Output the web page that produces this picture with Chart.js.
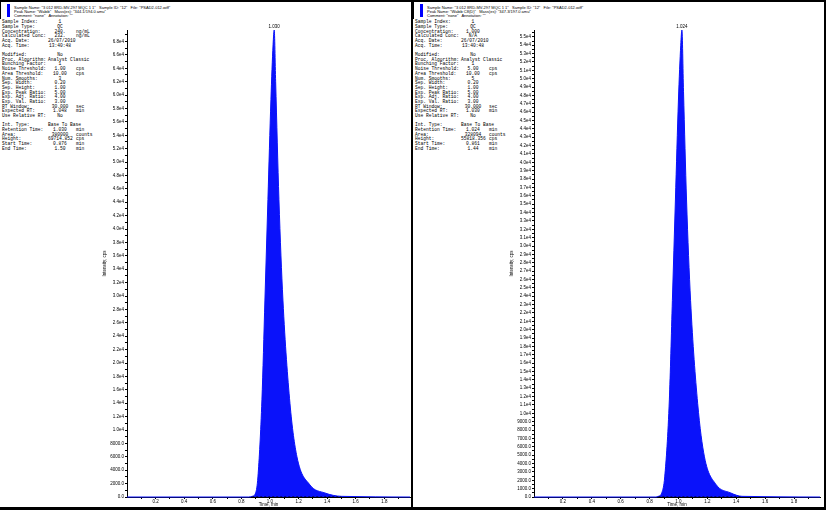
<!DOCTYPE html>
<html>
<head>
<meta charset="utf-8">
<script src="https://cdn.jsdelivr.net/npm/chart.js@4.4.1/dist/chart.umd.min.js"></script>
<style>
  body { margin: 0; background: #fff; width: 826px; height: 512px; overflow: hidden; position: relative; font-family: "Liberation Sans", Arial, sans-serif; }
  .panel { position: absolute; top: 0; height: 507px; }
  #pl { left: 0; width: 411px; }
  #pr { left: 413px; width: 411px; }
  .line { position: absolute; background: #000; }
  .hdr { position: absolute; left: 0; top: 0; width: 100%; height: 19px; border-left: 1px solid #000; box-sizing: border-box; }
  .bar { position: absolute; left: 6px; top: 4px; width: 3px; height: 13px; background: #0000ff; }
  .htxt { position: absolute; left: 13px; top: 5.5px; font-size: 4px; line-height: 4px; white-space: pre; color: #000; }
  .meta { position: absolute; left: 2px; top: 20.3px; font-family: "Liberation Mono", "Courier New", monospace; font-size: 4.6px; color: #000; }
  .meta div { position: relative; height: 4.7px; line-height: 4.7px; white-space: pre; }
  .meta span { position: absolute; top: 0; }
  .meta .v { left: 46px; width: 24px; text-align: center; }
  .meta .u { left: 74px; }
  canvas { position: absolute; top: 0; }
</style>
</head>
<body>
<div class="panel" id="pl">
  <div class="hdr"><div class="bar"></div><div class="htxt" id="hl"></div></div>
  <div class="meta" id="ml"></div>
</div>
<div class="panel" id="pr">
  <div class="hdr"><div class="bar"></div><div class="htxt" id="hr"></div></div>
  <div class="meta" id="mr"></div>
</div>
<canvas id="cl" width="411" height="507" style="left:0"></canvas>
<canvas id="cr" width="411" height="507" style="left:413px"></canvas>
<div class="line" style="left:0;top:0;width:826px;height:2px"></div>
<div class="line" style="left:411px;top:0;width:2px;height:510px"></div>
<div class="line" style="left:824px;top:0;width:2px;height:510px"></div>
<div class="line" style="left:0;top:507px;width:826px;height:3px"></div>

<script>
// left sample (analyte)
const timeL = [0, 0.85, 0.876, 0.90, 0.916, 0.944, 0.965, 0.986, 1.007, 1.022, 1.030, 1.040, 1.063, 1.091, 1.140, 1.189, 1.280, 1.385, 1.50, 1.98];
const intensL = [0, 0, 100, 600, 3000, 14500, 29400, 44400, 59300, 67500, 69714.852, 62000, 44400, 29400, 14000, 6000, 1800, 600, 100, 0];
const baseL = [0.876, 1.50];
const rtL = 1.030, heightL = 69714.852;

// right sample (internal standard)
const timeR = [0, 0.84, 0.861, 0.885, 0.905, 0.937, 0.958, 0.979, 1.000, 1.016, 1.024, 1.035, 1.056, 1.084, 1.133, 1.180, 1.260, 1.360, 1.44, 1.98];
const intensR = [0, 0, 80, 500, 2400, 11600, 23500, 35500, 47450, 54000, 55818.356, 48500, 35500, 23500, 11200, 4800, 1500, 500, 80, 0];
const baseR = [0.861, 1.44];
const rtR = 1.024, heightR = 55818.356;

const xLabelTicks = [0.2, 0.4, 0.6, 0.8, 1.0, 1.2, 1.4, 1.6, 1.8];
const xMax = 1.98;

const headerL = [
  'Sample Name: "3 012 8RD-MV-297 MQC 1 1"   Sample ID: "12"   File: "PSAD2-012.wiff"',
  'Peak Name: "Wabib"   Mass(es): "344.1/194.0 amu"',
  'Comment: "none"   Annotation: ""'
];
const headerR = [
  'Sample Name: "3 012 8RD-MV-297 MQC 1 1"   Sample ID: "12"   File: "PSAD2-012.wiff"',
  'Peak Name: "Wabib C8(D)"   Mass(es): "347.3/197.0 amu"',
  'Comment: "none"   Annotation: ""'
];

const metaL = [
  ['Sample Index:', '1', ''], ['Sample Type:', 'QC', ''], ['Concentration:', '240.', 'ng/mL'],
  ['Calculated Conc:', '232.', 'ng/mL'], ['Acq. Date:', '26/07/2010', ''], ['Acq. Time:', '13:40:48', ''], null,
  ['Modified:', 'No', ''], ['Proc. Algorithm:', 'Analyst Classic', ''], ['Bunching Factor:', '1', ''],
  ['Noise Threshold:', '1.00', 'cps'], ['Area Threshold:', '10.00', 'cps'], ['Num. Smooths:', '3', ''],
  ['Sep. Width:', '0.20', ''], ['Sep. Height:', '1.00', ''], ['Exp. Peak Ratio:', '5.00', ''],
  ['Exp. Adj. Ratio:', '4.00', ''], ['Exp. Val. Ratio:', '3.00', ''], ['RT Window:', '30.000', 'sec'],
  ['Expected RT:', '1.048', 'min'], ['Use Relative RT:', 'No', ''], null,
  ['Int. Type:', 'Base To Base', ''], ['Retention Time:', '1.030', 'min'], ['Area:', '380000', 'counts'],
  ['Height:', '69714.852', 'cps'], ['Start Time:', '0.876', 'min'], ['End Time:', '1.50', 'min']
];
const metaR = [
  ['Sample Index:', '1', ''], ['Sample Type:', 'QC', ''], ['Concentration:', '1.000', ''],
  ['Calculated Conc:', 'N/A', ''], ['Acq. Date:', '26/07/2010', ''], ['Acq. Time:', '13:40:48', ''], null,
  ['Modified:', 'No', ''], ['Proc. Algorithm:', 'Analyst Classic', ''], ['Bunching Factor:', '1', ''],
  ['Noise Threshold:', '5.00', 'cps'], ['Area Threshold:', '10.00', 'cps'], ['Num. Smooths:', '5', ''],
  ['Sep. Width:', '0.20', ''], ['Sep. Height:', '1.00', ''], ['Exp. Peak Ratio:', '5.00', ''],
  ['Exp. Adj. Ratio:', '4.00', ''], ['Exp. Val. Ratio:', '3.00', ''], ['RT Window:', '30.000', 'sec'],
  ['Expected RT:', '1.030', 'min'], ['Use Relative RT:', 'No', ''], null,
  ['Int. Type:', 'Base To Base', ''], ['Retention Time:', '1.024', 'min'], ['Area:', '328094', 'counts'],
  ['Height:', '55818.356', 'cps'], ['Start Time:', '0.861', 'min'], ['End Time:', '1.44', 'min']
];

function fillText(hid, mid, header, meta) {
  document.getElementById(hid).textContent = header.join('\n');
  const box = document.getElementById(mid);
  meta.forEach(r => {
    const d = document.createElement('div');
    if (r) {
      d.innerHTML = '<span class="l"></span><span class="v"></span><span class="u"></span>';
      d.children[0].textContent = r[0];
      d.children[1].textContent = r[1];
      d.children[2].textContent = r[2];
    }
    box.appendChild(d);
  });
}
fillText('hl', 'ml', headerL, metaL);
fillText('hr', 'mr', headerR, metaR);

const BLUE = 'rgb(10,18,250)';

function fmtY(v) {
  if (v === 0) return '0.0';
  if (v < 10000) return v.toFixed(1);
  return (v / 10000).toFixed(1) + 'e4';
}

const peakLabel = {
  id: 'peakLabel',
  afterDatasetsDraw(chart, args, opts) {
    const { ctx, scales: { x, y } } = chart;
    ctx.save();
    ctx.font = '4.5px "Liberation Sans"';
    ctx.fillStyle = '#000';
    ctx.textAlign = 'center';
    ctx.textBaseline = 'bottom';
    ctx.fillText(opts.text, x.getPixelForValue(opts.rt), y.getPixelForValue(opts.height) - 1);
    ctx.restore();
  }
};

function makeChart(id, times, intens, base, rt, height, step, padLeft, padRight) {
  const yTicks = [];
  for (let v = 0; v <= height; v += step / 2) yTicks.push(v);
  const xTicks = [];
  for (let i = 1; i <= 19; i++) xTicks.push(i / 10);

  new Chart(document.getElementById(id), {
    type: 'line',
    data: {
      datasets: [
        {
          data: [{ x: base[0], y: 0 }, { x: base[1], y: 0 }],
          borderColor: '#000', borderWidth: 1, borderDash: [2, 2],
          pointRadius: 0, fill: false, clip: false, order: 0
        },
        {
          data: times.map((t, i) => ({ x: t, y: intens[i] })),
          borderColor: BLUE, backgroundColor: BLUE, borderWidth: 1,
          pointRadius: 0, fill: 'origin', cubicInterpolationMode: 'monotone',
          clip: false, order: 1
        }
      ]
    },
    options: {
      responsive: false,
      animation: false,
      events: [],
      layout: { padding: { left: padLeft, right: padRight, top: 30, bottom: 0 } },
      plugins: {
        legend: { display: false },
        tooltip: { enabled: false },
        peakLabel: { text: rt.toFixed(3), rt: rt, height: height }
      },
      scales: {
        x: {
          type: 'linear', min: 0, max: xMax,
          afterBuildTicks: s => { s.ticks = xTicks.map(v => ({ value: v })); },
          afterFit: s => { s.height = 10; },
          ticks: {
            autoSkip: false, maxRotation: 0, padding: 0, color: '#000',
            font: { size: 4.5, family: 'Liberation Sans' },
            callback: v => xLabelTicks.some(t => Math.abs(t - v) < 1e-6) ? v.toFixed(1) : ''
          },
          grid: { drawOnChartArea: false, tickLength: 2, color: '#000' },
          border: { color: '#000', width: 1 },
          title: { display: true, text: 'Time, min', color: '#000', padding: 0, font: { size: 4.5, family: 'Liberation Sans' } }
        },
        y: {
          min: 0, max: height,
          afterBuildTicks: s => { s.ticks = yTicks.map(v => ({ value: v })); },
          afterFit: s => { s.width = 25; },
          ticks: {
            autoSkip: false, padding: 1, color: '#000',
            font: { size: 4.5, family: 'Liberation Sans' },
            callback: v => (Math.round(v) % step === 0) ? fmtY(v) : ''
          },
          grid: { drawOnChartArea: false, tickLength: 2, color: '#000' },
          border: { color: '#000', width: 1 },
          title: { display: true, text: 'Intensity, cps', color: '#000', padding: 0, font: { size: 4.5, family: 'Liberation Sans' } }
        }
      }
    },
    plugins: [peakLabel]
  });
}

makeChart('cl', timeL, intensL, baseL, rtL, heightL, 2000, 102, 1);
makeChart('cr', timeR, intensR, baseR, rtR, heightR, 1000, 96, 4);
</script>
</body>
</html>
